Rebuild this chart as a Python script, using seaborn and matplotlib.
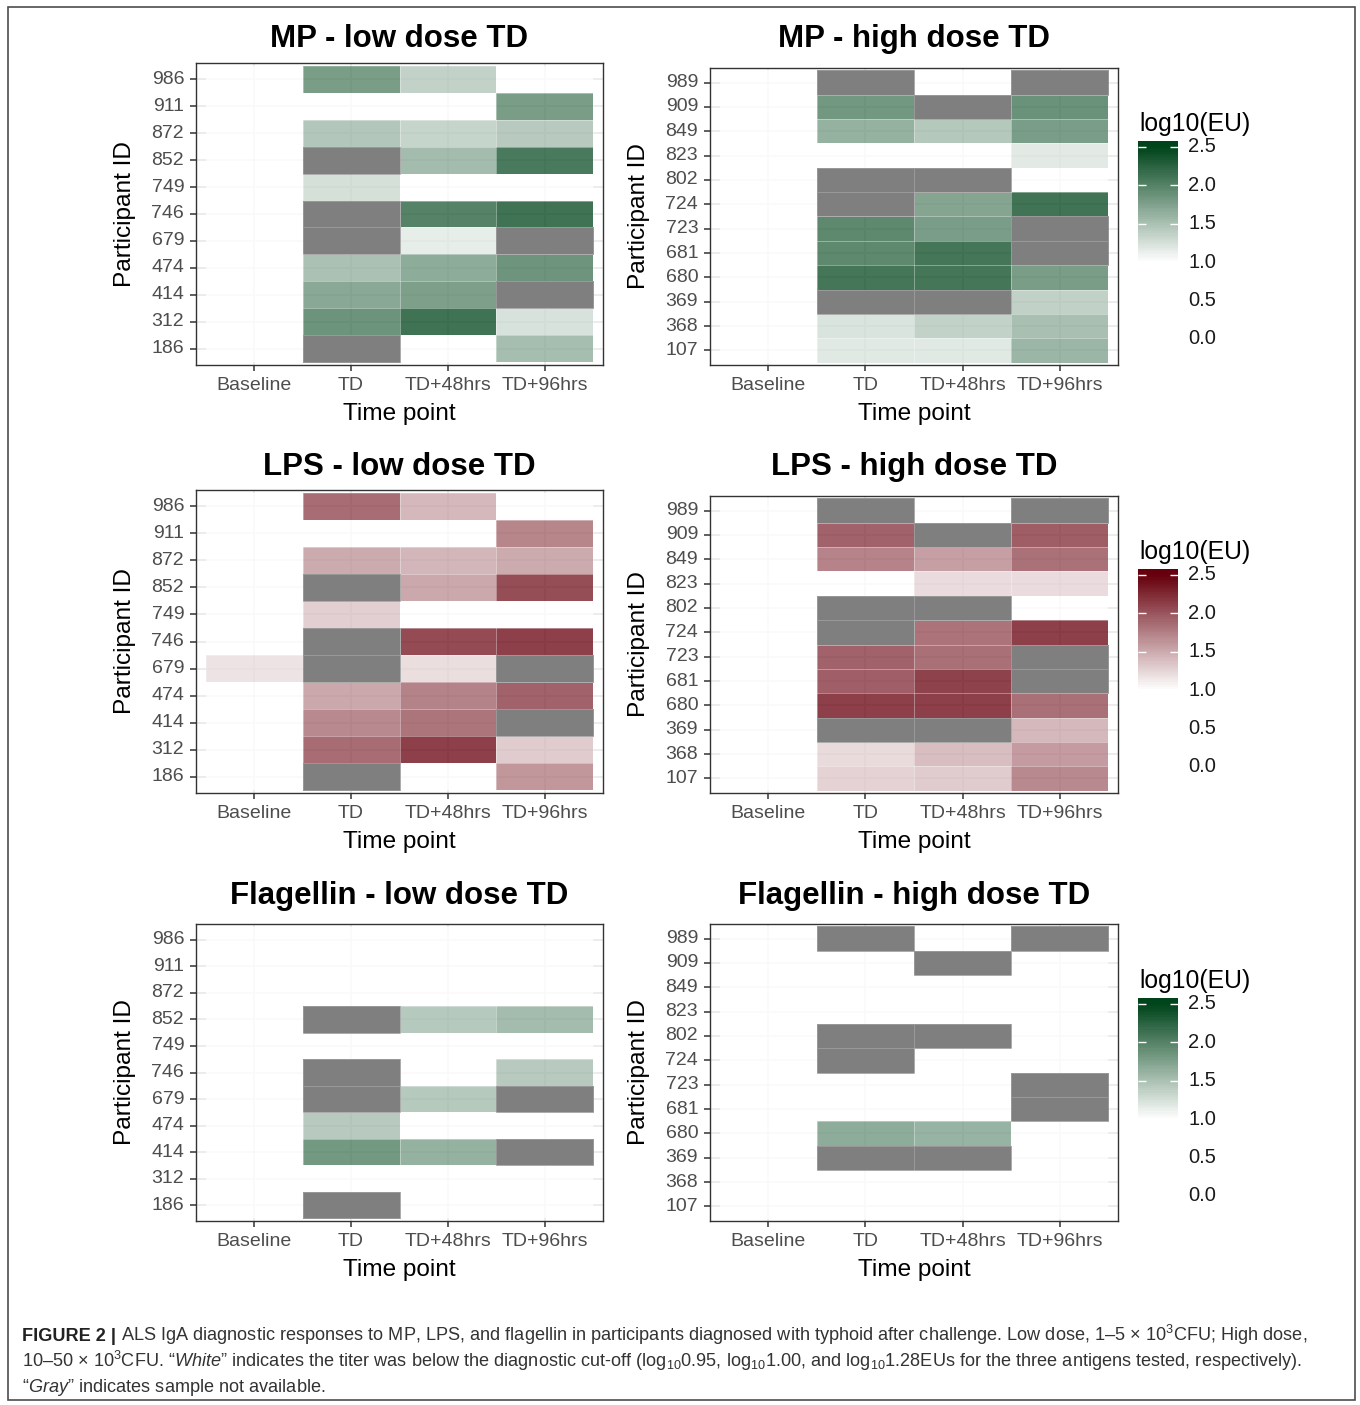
import numpy as np
import pandas as pd
import matplotlib
matplotlib.use("Agg")
import matplotlib.pyplot as plt
import seaborn as sns
from matplotlib.colors import LinearSegmentedColormap, ListedColormap, Normalize
from matplotlib.patches import Rectangle
from matplotlib import font_manager

# ---------------------------------------------------------------- data
# log10(EU) titres; BELOW = under the diagnostic cut-off, NA = no sample
NA = np.nan
BELOW = 0.0

time_points = ["Baseline", "TD", "TD+48hrs", "TD+96hrs"]
low_dose_ids = ["986", "911", "872", "852", "749", "746", "679", "474", "414", "312", "186"]
high_dose_ids = ["989", "909", "849", "823", "802", "724", "723", "681", "680", "369", "368", "107"]

mp_low = [
    [BELOW, 2.05, 1.47, BELOW],
    [BELOW, BELOW, BELOW, 2.05],
    [BELOW, 1.60, 1.45, 1.56],
    [BELOW, NA, 1.72, 2.42],
    [BELOW, 1.33, BELOW, BELOW],
    [BELOW, NA, 2.33, 2.50],
    [BELOW, NA, 1.19, NA],
    [BELOW, 1.66, 1.88, 2.14],
    [BELOW, 1.93, 2.01, NA],
    [BELOW, 2.15, 2.50, 1.31],
    [BELOW, NA, BELOW, 1.70],
]
mp_high = [
    [BELOW, NA, BELOW, NA],
    [BELOW, 2.10, NA, 2.17],
    [BELOW, 1.83, 1.59, 2.04],
    [BELOW, BELOW, BELOW, 1.22],
    [BELOW, NA, NA, BELOW],
    [BELOW, NA, 1.96, 2.49],
    [BELOW, 2.26, 2.04, NA],
    [BELOW, 2.26, 2.47, NA],
    [BELOW, 2.47, 2.47, 2.05],
    [BELOW, NA, NA, 1.49],
    [BELOW, 1.29, 1.48, 1.68],
    [BELOW, 1.24, 1.24, 1.78],
]
lps_low = [
    [BELOW, 2.15, 1.56, BELOW],
    [BELOW, BELOW, BELOW, 1.95],
    [BELOW, 1.66, 1.57, 1.66],
    [BELOW, NA, 1.68, 2.39],
    [BELOW, 1.38, BELOW, BELOW],
    [BELOW, NA, 2.41, 2.50],
    [1.22, NA, 1.26, NA],
    [BELOW, 1.68, 1.98, 2.23],
    [BELOW, 1.93, 2.08, NA],
    [BELOW, 2.15, 2.50, 1.40],
    [BELOW, NA, BELOW, 1.82],
]
lps_high = [
    [BELOW, NA, BELOW, NA],
    [BELOW, 2.23, NA, 2.26],
    [BELOW, 1.97, 1.75, 2.11],
    [BELOW, BELOW, 1.27, 1.27],
    [BELOW, NA, NA, BELOW],
    [BELOW, NA, 2.09, 2.50],
    [BELOW, 2.23, 2.12, NA],
    [BELOW, 2.25, 2.48, NA],
    [BELOW, 2.50, 2.50, 2.12],
    [BELOW, NA, NA, 1.56],
    [BELOW, 1.29, 1.51, 1.78],
    [BELOW, 1.35, 1.40, 1.93],
]
fla_low = [
    [BELOW, BELOW, BELOW, BELOW],
    [BELOW, BELOW, BELOW, BELOW],
    [BELOW, BELOW, BELOW, BELOW],
    [BELOW, NA, 1.57, 1.71],
    [BELOW, BELOW, BELOW, BELOW],
    [BELOW, NA, BELOW, 1.56],
    [BELOW, NA, 1.58, NA],
    [BELOW, 1.56, BELOW, BELOW],
    [BELOW, 2.09, 1.83, NA],
    [BELOW, BELOW, BELOW, BELOW],
    [BELOW, NA, BELOW, BELOW],
]
fla_high = [
    [BELOW, NA, BELOW, NA],
    [BELOW, BELOW, NA, BELOW],
    [BELOW, BELOW, BELOW, BELOW],
    [BELOW, BELOW, BELOW, BELOW],
    [BELOW, NA, NA, BELOW],
    [BELOW, NA, BELOW, BELOW],
    [BELOW, BELOW, BELOW, NA],
    [BELOW, BELOW, BELOW, NA],
    [BELOW, 1.88, 1.81, BELOW],
    [BELOW, NA, NA, BELOW],
    [BELOW, BELOW, BELOW, BELOW],
    [BELOW, BELOW, BELOW, BELOW],
]

panel_titles = ["MP - low dose TD", "MP - high dose TD",
                "LPS - low dose TD", "LPS - high dose TD",
                "Flagellin - low dose TD", "Flagellin - high dose TD"]
legend_ticks = [0.0, 0.5, 1.0, 1.5, 2.0, 2.5]

# ---------------------------------------------------------------- style
sns.set_style("white")
plt.rcParams["font.family"] = ["Liberation Sans", "DejaVu Sans"]

names = {f.name for f in font_manager.fontManager.ttflist}
cap_family = "Liberation Sans Narrow" if "Liberation Sans Narrow" in names else "Liberation Sans"
plt.rcParams["mathtext.fontset"] = "custom"
plt.rcParams["mathtext.rm"] = cap_family
plt.rcParams["mathtext.it"] = cap_family + ":italic"
plt.rcParams["mathtext.bf"] = cap_family + ":bold"
plt.rcParams["mathtext.default"] = "regular"

W, H = 1360, 1405
fig = plt.figure(figsize=(W / 100, H / 100), dpi=100)
fig.patch.set_facecolor("white")


def frac(l, t, r, b):
    return [l / W, 1 - b / H, (r - l) / W, (b - t) / H]


greens = LinearSegmentedColormap.from_list("wg", ["#ffffff", "#00441b"])
reds = LinearSegmentedColormap.from_list("wr", ["#ffffff", "#67000d"])
GRAY = "#7f7f7f"
VMIN, VMAX = 1.0, 2.5


def draw_panel(rect, values, ids, cmap, title, title_y):
    l, t, r, b = rect
    ax = fig.add_axes(frac(*rect))
    df = pd.DataFrame(values, index=ids, columns=time_points)
    missing = df.isna()
    ax.set_axisbelow(True)
    sns.heatmap(df, ax=ax, cmap=cmap, vmin=VMIN, vmax=VMAX, cbar=False,
                alpha=0.75, linewidths=0,
                xticklabels=time_points, yticklabels=ids)
    # samples that were not available: solid grey tiles
    sns.heatmap(missing.astype(float), mask=~missing, ax=ax,
                cmap=ListedColormap([GRAY]), vmin=0, vmax=1, cbar=False,
                linewidths=0.6, linecolor=(1, 1, 1, 0.2),
                xticklabels=time_points, yticklabels=ids)
    n = len(ids)
    ax.set_xlim(-0.1, len(time_points) + 0.1)
    ax.set_ylim(n + 0.1, -0.1)
    ax.grid(True, color="#ebebeb", lw=1.3)
    for sp in ax.spines.values():
        sp.set_visible(True)
        sp.set_color("#333333")
        sp.set_linewidth(1.0)
    ax.tick_params(axis="both", direction="out", length=4, width=1.1,
                   color="#333333", labelcolor="#4d4d4d", labelsize=14,
                   left=True, bottom=True, pad=4.5)
    ax.set_xticklabels(time_points, rotation=0)
    ax.set_yticklabels(ids, rotation=0)
    ax.set_xlabel("Time point", fontsize=17.6, color="black")
    ax.set_ylabel("Participant ID", fontsize=17.6, color="black")
    ax.xaxis.set_label_coords(0.5, -38 / (b - t))
    ax.yaxis.set_label_coords(-60 / (r - l), 0.5)
    fig.text((l + r) / 2 / W, 1 - (title_y + 11) / H, title, ha="center",
             va="baseline", fontsize=22.5, fontweight="bold", color="black")
    return ax


def draw_legend(off, cmap):
    fig.text(1139 / W, 1 - (124 + off) / H, "log10(EU)", ha="left", va="center",
             fontsize=17.8, color="black")
    cax = fig.add_axes(frac(1138, 141 + off, 1178, 267 + off))
    lo, hi = 0.935, 2.578
    edges = np.linspace(lo, hi, 61)
    centers = (edges[:-1] + edges[1:]) / 2
    cax.imshow(centers.reshape(-1, 1), cmap=cmap, norm=Normalize(VMIN, VMAX),
               extent=[0, 1, lo, hi], origin="lower", aspect="auto",
               interpolation="nearest")
    cax.set_xlim(0, 1)
    cax.set_ylim(lo, hi)
    cax.axis("off")
    bar_ticks = [v for v in legend_ticks if v >= VMIN]
    cax.hlines(bar_ticks, 0, 0.2, color="white", lw=1.0)
    cax.hlines(bar_ticks, 0.8, 1, color="white", lw=1.0)
    for v in legend_ticks:
        cax.text(1.25, v, f"{v:.1f}", transform=cax.get_yaxis_transform(),
                 ha="left", va="center", fontsize=14.5, color="#1a1a1a",
                 clip_on=False)


rows = [
    (0, 36, (196, 63, 603, 365), (710, 68, 1118, 365), mp_low, mp_high, greens),
    (428, 464, (196, 490, 603, 793), (710, 496, 1118, 793), lps_low, lps_high, reds),
    (857, 893, (196, 924, 603, 1221), (710, 924, 1118, 1221), fla_low, fla_high, greens),
]
for i, (off, ty, rl, rh, vlow, vhigh, cmap) in enumerate(rows):
    draw_panel(rl, vlow, low_dose_ids, cmap, panel_titles[2 * i], ty)
    draw_panel(rh, vhigh, high_dose_ids, cmap, panel_titles[2 * i + 1], ty)
    draw_legend(off, cmap)

# ---------------------------------------------------------------- caption
line1 = "ALS IgA diagnostic responses to MP, LPS, and flagellin in participants diagnosed with typhoid after challenge. Low dose, 1\u20135 \u00d7 $10^{3}$CFU; High dose,"
line2 = "10\u201350 \u00d7 $10^{3}$CFU. \u201c$\\mathit{White}$\u201d indicates the titer was below the diagnostic cut-off ($log_{10}$0.95, $log_{10}$1.00, and $log_{10}$1.28EUs for the three antigens tested, respectively)."
line3 = "\u201c$\\mathit{Gray}$\u201d indicates sample not available."

renderer = fig.canvas.get_renderer()
X0, X1 = 22, 1308
baselines = [1341, 1367, 1392]


def place_caption(size):
    made = []
    tb = fig.text(X0 / W, 1 - baselines[0] / H, "FIGURE 2 |", fontsize=size,
                  fontweight="bold", family=cap_family, color="#222222", va="baseline")
    made.append(tb)
    bb = tb.get_window_extent(renderer)
    gap = size * 0.28 * 100 / 72
    t1 = fig.text((bb.x1 + gap) / W, 1 - baselines[0] / H, line1, fontsize=size,
                  family=cap_family, color="#333333", va="baseline")
    made.append(t1)
    for s, y in ((line2, baselines[1]), (line3, baselines[2])):
        made.append(fig.text(X0 / W, 1 - y / H, s, fontsize=size, family=cap_family,
                             color="#333333", va="baseline"))
    return made, t1.get_window_extent(renderer).x1


texts, right = place_caption(14)
for t in texts:
    t.remove()
size = 14 * (X1 - X0) / (right - X0)
place_caption(size)

fig.patches.append(Rectangle((8 / W, 1 - 1400 / H), (1355 - 8) / W, (1400 - 7) / H,
                             transform=fig.transFigure, fill=False,
                             edgecolor="#4d4d4d", linewidth=1.2))

fig.savefig("out.png", dpi=100, facecolor="white")
